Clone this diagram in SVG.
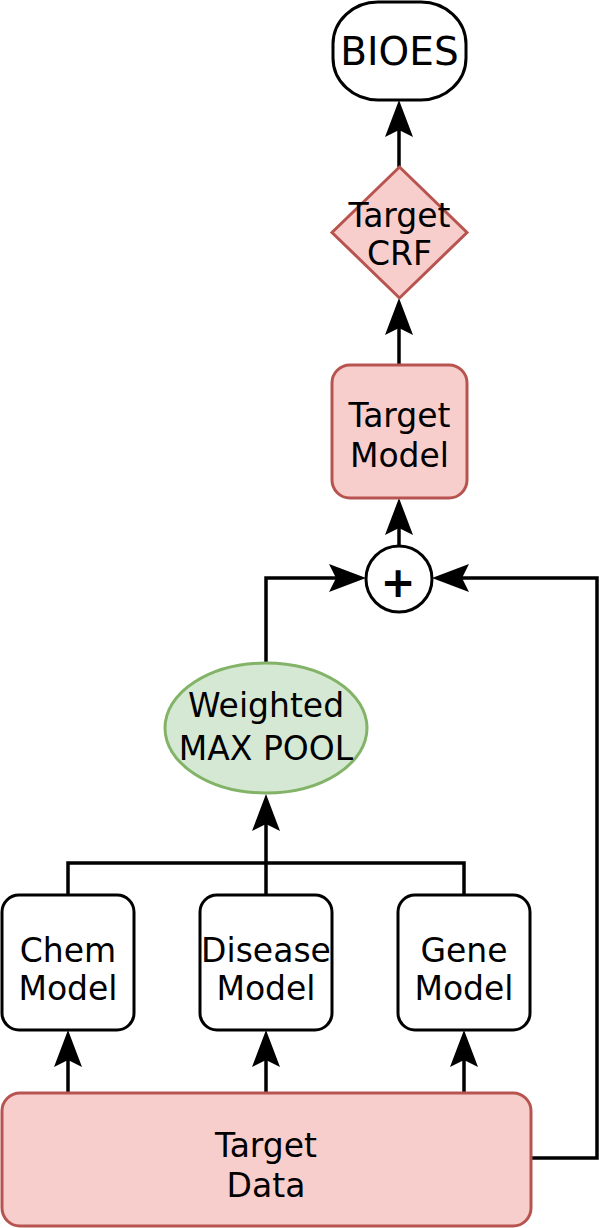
<svg xmlns="http://www.w3.org/2000/svg" width="599" height="1228" viewBox="0 0 599 1228">
<style>
  .t { font-family: "DejaVu Sans", Verdana, sans-serif; font-size: 33px; fill: #000; text-anchor: middle; }
  .plain { fill: #ffffff; stroke: #000; stroke-width: 3; }
  .red { fill: #f8cecc; stroke: #b85450; stroke-width: 3; }
  .green { fill: #d5e8d4; stroke: #82b366; stroke-width: 3; }
  .edge { fill: none; stroke: #000; stroke-width: 3.5; }
</style>
<defs>
  <marker id="arr" markerUnits="userSpaceOnUse" markerWidth="37" markerHeight="28" viewBox="0 0 37 28" refX="27" refY="14" orient="auto">
    <path d="M37,14 L0,0 L7,14 L0,28 Z" fill="#000"/>
  </marker>
</defs>
<rect width="599" height="1228" fill="#ffffff"/>
<g id="connectors">
  <path class="edge" d="M399,167 L399,110" marker-end="url(#arr)"/>
  <path class="edge" d="M399,365 L399,308" marker-end="url(#arr)"/>
  <path class="edge" d="M399,546 L399,508" marker-end="url(#arr)"/>
  <path class="edge" d="M266,663 L266,578 L356,578" marker-end="url(#arr)"/>
  <path class="edge" d="M531,1158 L597,1158 L597,578 L442,578" marker-end="url(#arr)"/>
  <path class="edge" d="M68,895 L68,863 L464,863 L464,895"/>
  <path class="edge" d="M266,895 L266,804" marker-end="url(#arr)"/>
  <path class="edge" d="M68,1093 L68,1040" marker-end="url(#arr)"/>
  <path class="edge" d="M266,1093 L266,1040" marker-end="url(#arr)"/>
  <path class="edge" d="M464,1093 L464,1040" marker-end="url(#arr)"/>
</g>
<g id="bioes">
  <rect class="plain" x="333" y="2" width="133" height="98" rx="45" ry="42"/>
  <text class="t" x="399.5" y="65" style="font-size:39px">BIOES</text>
</g>
<g id="target-crf">
  <polygon class="red" points="399.5,167 467,232.5 399.5,298 332,232.5"/>
  <text class="t" x="399.5" y="227">Target</text>
  <text class="t" x="399.5" y="265">CRF</text>
</g>
<g id="target-model">
  <rect class="red" x="332" y="365" width="135" height="133" rx="18" ry="18"/>
  <text class="t" x="399.5" y="427">Target</text>
  <text class="t" x="399.5" y="467">Model</text>
</g>
<g id="sum">
  <circle class="plain" cx="399" cy="579" r="33"/>
  <text class="t" x="398" y="597" style="font-size:42px;font-weight:bold">+</text>
</g>
<g id="weighted-max-pool">
  <ellipse class="green" cx="266" cy="728" rx="101" ry="65"/>
  <text class="t" x="266" y="717">Weighted</text>
  <text class="t" x="266" y="760">MAX POOL</text>
</g>
<g id="chem-model">
  <rect class="plain" x="2" y="895" width="132" height="135" rx="17" ry="17"/>
  <text class="t" x="68" y="962">Chem</text>
  <text class="t" x="68" y="1000">Model</text>
</g>
<g id="disease-model">
  <rect class="plain" x="200" y="895" width="132" height="135" rx="17" ry="17"/>
  <text class="t" x="266" y="962">Disease</text>
  <text class="t" x="266" y="1000">Model</text>
</g>
<g id="gene-model">
  <rect class="plain" x="398" y="895" width="132" height="135" rx="17" ry="17"/>
  <text class="t" x="464" y="962">Gene</text>
  <text class="t" x="464" y="1000">Model</text>
</g>
<g id="target-data">
  <rect class="red" x="2" y="1093" width="529" height="133" rx="18" ry="18"/>
  <text class="t" x="266" y="1157">Target</text>
  <text class="t" x="266" y="1197">Data</text>
</g>
</svg>
